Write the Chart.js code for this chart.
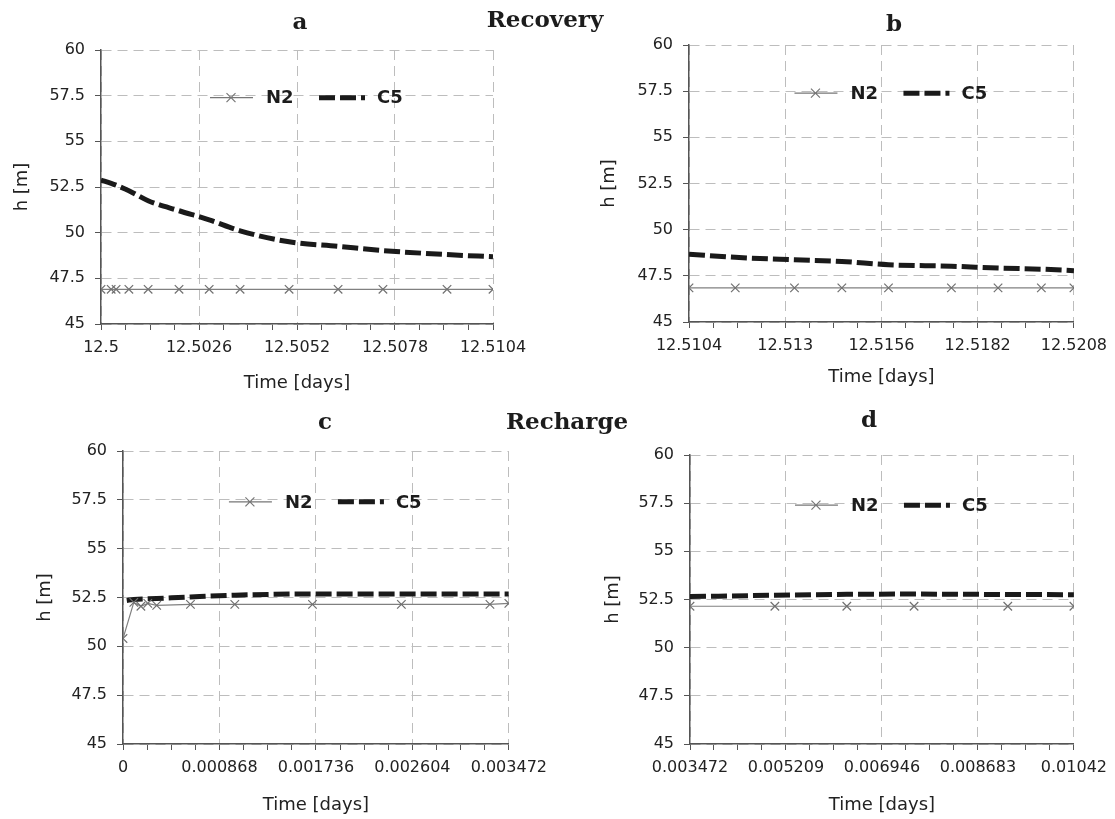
<!DOCTYPE html>
<html>
<head>
<meta charset="utf-8">
<script src="https://cdn.jsdelivr.net/npm/chart.js@4.4.1/dist/chart.umd.min.js"></script>
<style>
  body { margin: 0; background: #fff; width: 1115px; height: 819px; overflow: hidden; position: relative; }
  .box { position: absolute; }
  .ttl { position: absolute; z-index: 2; font: bold 23px "DejaVu Serif", serif; color: #1c1c1c;
         transform: translate(-50%, -50%); line-height: 1; white-space: nowrap; }
</style>
</head>
<body>
<div class="ttl" style="left:300px;top:20px">a</div>
<div class="ttl" style="left:545px;top:18px">Recovery</div>
<div class="ttl" style="left:894px;top:22px">b</div>
<div class="ttl" style="left:325px;top:420px">c</div>
<div class="ttl" style="left:567px;top:420px">Recharge</div>
<div class="ttl" style="left:869px;top:418px">d</div>

<div class="box" style="left:0;top:30px"><canvas id="chA" width="545" height="368"></canvas></div>
<div class="box" style="left:560px;top:25px"><canvas id="chB" width="555" height="367"></canvas></div>
<div class="box" style="left:0;top:430px"><canvas id="chC" width="555" height="390"></canvas></div>
<div class="box" style="left:560px;top:430px"><canvas id="chD" width="555" height="390"></canvas></div>

<script>
// ---- data ----
const seriesNames = ['N2', 'C5'];
const yMin = 45, yMax = 60, yStep = 2.5;

// a: recovery, first part
const timeA = [12.5, 12.50027, 12.5004, 12.50074, 12.50125, 12.50207, 12.50287, 12.50369, 12.50499, 12.50629, 12.50748, 12.50918, 12.5104];
const n2A   = [46.9, 46.9, 46.9, 46.9, 46.9, 46.9, 46.9, 46.9, 46.9, 46.9, 46.9, 46.9, 46.9];
const c5A   = [52.88, 52.7, 52.6, 52.3, 51.75, 51.2, 50.7, 50.1, 49.5, 49.25, 49.02, 48.8, 48.68];
const xTicksA = ['12.5', '12.5026', '12.5052', '12.5078', '12.5104'];

// b: recovery, second part
const timeB = [12.5104, 12.51165, 12.51325, 12.51453, 12.51579, 12.51749, 12.51875, 12.51992, 12.5208];
const n2B   = [46.85, 46.85, 46.85, 46.85, 46.85, 46.85, 46.85, 46.85, 46.85];
const c5B   = [48.67, 48.5, 48.37, 48.28, 48.1, 48.02, 47.92, 47.86, 47.78];
const xTicksB = ['12.5104', '12.513', '12.5156', '12.5182', '12.5208'];

// c: recharge, first part
const timeC = [0, 0.0000973, 0.000161, 0.000223, 0.000303, 0.000607, 0.001006, 0.001705, 0.002505, 0.003302, 0.003472];
const n2C   = [50.4, 52.25, 52.05, 52.2, 52.1, 52.15, 52.15, 52.15, 52.15, 52.15, 52.2];
const timeC5C = [0.0000339, 0.0000973, 0.000303, 0.000607, 0.001006, 0.001705, 0.002505, 0.003472];
const c5C   = [52.35, 52.4, 52.45, 52.53, 52.62, 52.68, 52.68, 52.68];
const xTicksC = ['0', '0.000868', '0.001736', '0.002604', '0.003472'];

// d: recharge, second part
const timeD = [0.003472, 0.005008, 0.00631, 0.007527, 0.009223, 0.01042];
const n2D   = [52.15, 52.15, 52.15, 52.15, 52.15, 52.15];
const c5D   = [52.65, 52.72, 52.77, 52.78, 52.76, 52.75];
const xTicksD = ['0.003472', '0.005209', '0.006946', '0.008683', '0.01042'];

// ---- drawing ----
const FONT = '"DejaVu Sans", sans-serif';
const TXT = '#222';
const GRID = '#bdbdbd';
const AXIS = '#555';

const pts = (xs, ys) => xs.map((x, i) => ({ x: x, y: ys[i] }));

// legend drawn inside the plot, on the 57.5 line
const legendInside = {
  id: 'legendInside',
  afterDraw(chart) {
    const { ctx, chartArea, scales } = chart;
    const cx = (chartArea.left + chartArea.right) / 2;
    const y = scales.y.getPixelForValue(57.5) + 2;
    const ds = chart.data.datasets;
    ctx.save();
    ctx.strokeStyle = '#777';
    ctx.lineWidth = 1.2;
    ctx.beginPath();
    ctx.moveTo(cx - 87, y); ctx.lineTo(cx - 44, y);
    const m = cx - 66, r = 4.5;
    ctx.moveTo(m - r, y - r); ctx.lineTo(m + r, y + r);
    ctx.moveTo(m - r, y + r); ctx.lineTo(m + r, y - r);
    ctx.stroke();
    ctx.fillStyle = '#1c1c1c';
    ctx.font = 'bold 18px ' + FONT;
    ctx.textBaseline = 'middle';
    ctx.textAlign = 'left';
    ctx.fillText(ds[0].label, cx - 31, y + 1);
    ctx.strokeStyle = '#1a1a1a';
    ctx.lineWidth = 5;
    ctx.setLineDash([16, 5]);
    ctx.beginPath();
    ctx.moveTo(cx + 22, y); ctx.lineTo(cx + 68, y);
    ctx.stroke();
    ctx.setLineDash([]);
    ctx.fillText(ds[1].label, cx + 80, y + 1);
    ctx.restore();
  }
};

function makeChart(id, o) {
  const xmin = o.times[0], xmax = o.times[o.times.length - 1];
  return new Chart(document.getElementById(id), {
    type: 'line',
    data: {
      datasets: [{
        label: seriesNames[0],
        data: pts(o.times, o.n2),
        borderColor: '#808080',
        borderWidth: 1.2,
        pointStyle: 'crossRot',
        pointRadius: 6,
        pointBorderColor: '#707070',
        pointBorderWidth: 1.2,
        tension: 0
      }, {
        label: seriesNames[1],
        data: pts(o.c5times || o.times, o.c5),
        borderColor: '#1a1a1a',
        borderWidth: 5,
        borderDash: [16, 5],
        pointRadius: 0,
        cubicInterpolationMode: 'monotone'
      }]
    },
    options: {
      responsive: false,
      animation: false,
      devicePixelRatio: 1,
      layout: { padding: { left: o.pad[0], top: o.pad[1], right: o.pad[2], bottom: 0 } },
      plugins: { legend: { display: false }, tooltip: { enabled: false } },
      scales: {
        x: {
          type: 'linear',
          min: xmin,
          max: xmax,
          afterBuildTicks: (s) => {
            const step = (xmax - xmin) / 16;
            s.ticks = Array.from({ length: 17 }, (_, i) => ({ value: xmin + i * step }));
          },
          afterFit: (s) => { s.height = o.xh; },
          ticks: {
            autoSkip: false, maxRotation: 0, padding: 8,
            color: TXT, font: { family: FONT, size: 16 },
            callback: (v, i) => (i % 4 === 0 ? o.labels[i / 4] : '')
          },
          grid: {
            color: (c) => (c.index % 4 === 0 ? GRID : 'rgba(0,0,0,0)'),
            tickColor: AXIS, tickLength: 6, lineWidth: 1
          },
          border: { color: AXIS, width: 1.5, dash: [10, 6] },
          title: { display: true, text: 'Time [days]', color: TXT, font: { family: FONT, size: 18 } }
        },
        y: {
          min: yMin, max: yMax,
          afterFit: (s) => { s.width = o.yw; },
          ticks: { stepSize: yStep, padding: 10, color: TXT, font: { family: FONT, size: 16 } },
          grid: { color: GRID, tickColor: AXIS, tickLength: 6, lineWidth: 1 },
          border: { color: AXIS, width: 1.5, dash: [10, 6] },
          title: { display: true, text: 'h [m]', color: TXT, font: { family: FONT, size: 18 } }
        }
      }
    },
    plugins: [legendInside]
  });
}

makeChart('chA', { times: timeA, n2: n2A, c5: c5A, labels: xTicksA, pad: [8, 20, 52], yw: 93, xh: 74 });
makeChart('chB', { times: timeB, n2: n2B, c5: c5B, labels: xTicksB, pad: [35, 20, 35], yw: 94, xh: 70 });
makeChart('chC', { times: timeC, n2: n2C, c5times: timeC5C, c5: c5C, labels: xTicksC, pad: [31, 21, 43], yw: 92, xh: 76 });
makeChart('chD', { times: timeD, n2: n2D, c5: c5D, labels: xTicksD, pad: [39, 25, 36], yw: 91, xh: 76 });
</script>
</body>
</html>
